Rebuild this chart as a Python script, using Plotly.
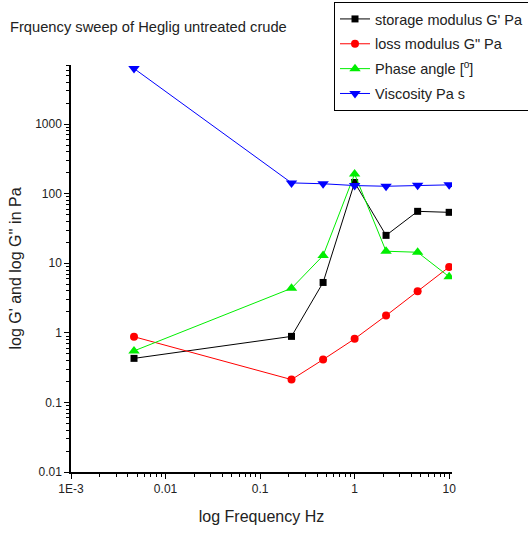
import plotly.graph_objects as go

# Frequency sweep data (Hz) and measured responses
freq = [0.00464, 0.215, 0.464, 1.0, 2.15, 4.64, 10.0]
storage_modulus = [0.43, 0.89, 5.3, 145, 25.2, 55.8, 54]
loss_modulus = [0.88, 0.213, 0.413, 0.82, 1.77, 3.96, 8.87]
phase_angle = [0.55, 4.37, 12.9, 192, 14.9, 14.4, 6.4]
viscosity = [6300, 143, 139, 131, 128, 132, 134]

x_tickvals = [0.001, 0.01, 0.1, 1, 10]
x_ticktext = ["1E-3", "0.01", "0.1", "1", "10"]
y_tickvals = [0.01, 0.1, 1, 10, 100, 1000]
y_ticktext = ["0.01", "0.1", "1", "10", "100", "1000"]

FONT = "Liberation Sans, Arial, sans-serif"

series = [
    ("storage modulus G' Pa", storage_modulus, "black", "square", 7),
    ('loss modulus G" Pa', loss_modulus, "red", "circle", 8),
    ("Phase angle [<sup>o</sup>]", phase_angle, "#00ee00", "triangle-up", 10),
    ("Viscosity Pa s", viscosity, "blue", "triangle-down", 10),
]

fig = go.Figure()
for i, (name, vals, color, symbol, size) in enumerate(series):
    fig.add_trace(go.Scatter(
        x=freq, y=vals, name=name, mode="lines+markers",
        line=dict(color=color, width=1),
        marker=dict(color=color, symbol=symbol, size=size, line=dict(width=0)),
        legendgroup=str(i),
    ))


def minor_vals(lo, hi):
    out = []
    for e in range(lo, hi + 1):
        for m in range(2, 10):
            out.append(m * 10 ** e)
    return out


axis_common = dict(
    type="log", showgrid=False, zeroline=False, showline=True,
    linecolor="black", linewidth=1.5, ticks="outside", ticklen=5,
    tickwidth=1.2, tickcolor="black", tickmode="array",
    tickfont=dict(family=FONT, size=12, color="#222"),
)

fig.update_layout(
    width=528, height=535,
    margin=dict(l=71, r=76, t=65, b=63, autoexpand=False),
    paper_bgcolor="white", plot_bgcolor="white",
    font=dict(family=FONT, color="#222"),
    title=dict(text="Frquency sweep of Heglig untreated crude",
               x=10 / 528, xanchor="left", y=1 - 27 / 535, yanchor="middle",
               font=dict(family=FONT, size=14.7, color="#222")),
    xaxis=dict(**axis_common, range=[-3, 1.03],
               tickvals=x_tickvals, ticktext=x_ticktext,
               minor=dict(ticks="outside", ticklen=3, tickcolor="black",
                          tickmode="array", tickvals=minor_vals(-3, 0)),
               title=dict(text="log Frequency Hz", standoff=16,
                          font=dict(family=FONT, size=16, color="#222"))),
    yaxis=dict(**axis_common, range=[-2, 3.85],
               tickvals=y_tickvals, ticktext=y_ticktext,
               minor=dict(ticks="outside", ticklen=3, tickcolor="black",
                          tickmode="array", tickvals=minor_vals(-2, 3)),
               title=dict(text="log G' and log G'' in Pa", standoff=10,
                          font=dict(family=FONT, size=16, color="#222"))),
    legend=dict(x=(334 - 71) / 381, y=(472 - 2) / 407, xanchor="left",
                yanchor="top", bordercolor="black", borderwidth=1,
                bgcolor="white", tracegroupgap=3,
                font=dict(family=FONT, size=14.5, color="#222")),
    showlegend=True,
)

fig.write_html("out.html")
